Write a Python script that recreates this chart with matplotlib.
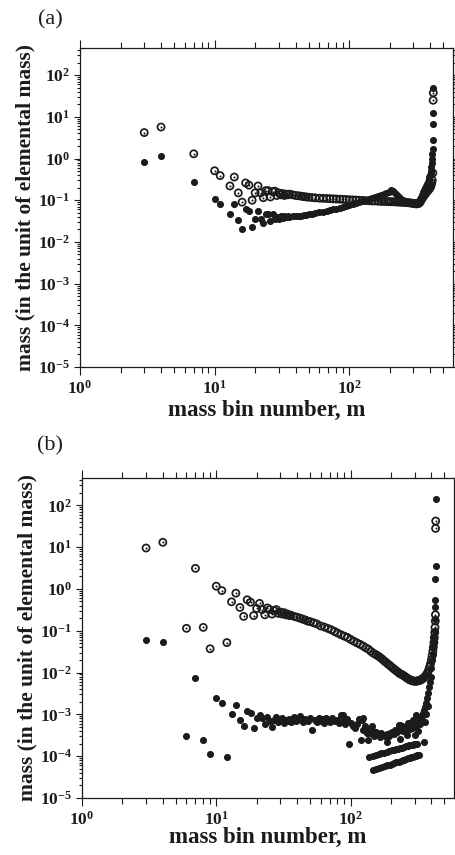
import numpy as np
import matplotlib
matplotlib.use("Agg")
import matplotlib.pyplot as plt
from matplotlib.ticker import LogLocator, FuncFormatter, NullFormatter

plt.rcParams['font.family'] = ['Liberation Serif', 'DejaVu Serif']
plt.rcParams['mathtext.fontset'] = 'custom'
plt.rcParams['mathtext.rm'] = 'Liberation Serif:bold'
plt.rcParams['mathtext.bf'] = 'Liberation Serif:bold'

# ---- panel (a) ----
a_fill_m = [3, 4, 7, 10, 11, 13, 14, 15, 16, 17, 18, 19, 20, 21, 22, 23, 24, 25, 26, 27,
            28, 29, 30, 31, 32, 33, 34, 35, 36, 38, 40, 42, 44, 46, 48, 50, 53, 56, 60, 64,
            68, 72, 76, 80, 85, 90, 95, 100, 106, 112, 118, 125, 132, 140, 148, 156, 164, 172, 180, 188,
            196, 204, 212, 220, 228, 236, 244, 252, 260, 268, 276, 284, 292, 300, 306, 312, 318, 324, 330, 336,
            342, 348, 354, 360, 366, 372, 378, 384, 390, 394, 398, 402, 405, 408, 410, 412, 414, 416, 418, 419,
            420, 421]
a_fill_v = [0.83, 1.15, 0.27, 0.107, 0.083, 0.047, 0.081, 0.033, 0.020, 0.060, 0.054, 0.023, 0.036, 0.056, 0.036, 0.029, 0.046, 0.046, 0.031, 0.046,
            0.036, 0.040, 0.036, 0.043, 0.038, 0.041, 0.039, 0.042, 0.040, 0.041, 0.042, 0.042, 0.043, 0.044, 0.045, 0.046, 0.047, 0.049, 0.051, 0.053,
            0.055, 0.058, 0.060, 0.063, 0.066, 0.069, 0.072, 0.076, 0.080, 0.085, 0.090, 0.096, 0.103, 0.108, 0.112, 0.117, 0.123, 0.130, 0.139, 0.150,
            0.162, 0.172, 0.168, 0.152, 0.135, 0.120, 0.108, 0.100, 0.095, 0.092, 0.090, 0.088, 0.086, 0.084, 0.082, 0.081, 0.082, 0.085, 0.090, 0.100,
            0.115, 0.135, 0.16, 0.18, 0.20, 0.22, 0.25, 0.28, 0.32, 0.36, 0.40, 0.45, 0.50, 0.62, 0.80, 1.0, 1.3, 1.74, 2.76, 6.9,
            12.5, 48.0]

a_open_m = [3, 4, 7, 10, 11, 13, 14, 15, 16, 17, 18, 19, 20, 21, 22, 23, 24, 25, 26, 27,
            28, 29, 30, 31, 32, 33, 34, 35, 36, 38, 40, 42, 44, 46, 48, 50, 53, 56, 60, 64,
            68, 72, 76, 80, 85, 90, 95, 100, 106, 112, 118, 125, 132, 140, 148, 156, 164, 172, 180, 188,
            196, 204, 212, 220, 228, 236, 244, 252, 260, 268, 276, 284, 292, 300, 306, 312, 318, 324, 330, 336,
            342, 348, 354, 360, 366, 372, 378, 384, 390, 394, 398, 402, 406, 410, 414, 418, 420, 421]
a_open_v = [4.2, 5.7, 1.3, 0.51, 0.39, 0.22, 0.36, 0.15, 0.090, 0.26, 0.23, 0.10, 0.15, 0.22, 0.15, 0.115, 0.17, 0.17, 0.12, 0.16,
            0.165, 0.13, 0.15, 0.135, 0.145, 0.13, 0.14, 0.135, 0.14, 0.135, 0.13, 0.128, 0.125, 0.122, 0.12, 0.118, 0.116, 0.114, 0.112, 0.111,
            0.110, 0.109, 0.108, 0.107, 0.106, 0.105, 0.104, 0.103, 0.102, 0.101, 0.100, 0.099, 0.098, 0.097, 0.096, 0.096, 0.095, 0.094, 0.094, 0.093,
            0.093, 0.092, 0.092, 0.091, 0.091, 0.090, 0.090, 0.089, 0.089, 0.088, 0.087, 0.086, 0.085, 0.084, 0.083, 0.082, 0.082, 0.083, 0.085, 0.090,
            0.10, 0.11, 0.12, 0.13, 0.14, 0.15, 0.16, 0.17, 0.18, 0.19, 0.20, 0.21, 0.23, 0.26, 0.30, 0.45, 25.0, 38.0]

# ---- panel (b) ----
b_fill_m = [3, 4, 6, 7, 8, 9, 10, 11, 12, 13, 14, 15, 16, 17, 18, 19, 20, 21, 22, 23,
            24, 25, 26, 27, 28, 29, 30, 31, 32, 33, 34, 35, 36, 37, 38, 39, 40, 42, 44, 46,
            48, 50, 52, 54, 56, 58, 60, 62, 64, 66, 68, 70, 73, 76, 79, 82, 85, 88, 91, 94,
            97, 100, 104, 108, 112, 116, 120, 124, 128, 132, 136, 140, 145, 150, 155, 160, 165, 170, 175, 180,
            186, 192, 198, 204, 210, 216, 222, 228, 234, 240, 246, 252, 258, 264, 270, 276, 282, 288, 294, 300,
            306, 312, 318, 324, 330, 336, 342, 348, 354, 360, 366, 372, 378, 384, 390, 395, 400, 405, 410, 414,
            418, 421, 423, 425, 427, 428, 429, 430, 431]
b_fill_v = [6.0e-2, 5.5e-2, 3.0e-4, 7.4e-3, 2.5e-4, 1.14e-4, 2.5e-3, 1.9e-3, 9.3e-5, 1.0e-3, 1.65e-3, 7.5e-4, 5.4e-4, 1.2e-3, 1.1e-3, 4.8e-4, 8.0e-4, 9.5e-4, 8.0e-4, 5.8e-4,
            8.8e-4, 7.0e-4, 5.0e-4, 7.5e-4, 8.8e-4, 6.5e-4, 7.2e-4, 8.0e-4, 6.2e-4, 7.5e-4, 6.8e-4, 7.8e-4, 6.5e-4, 7.3e-4, 8.5e-4, 6.8e-4, 7.5e-4, 9.0e-4, 6.6e-4, 7.8e-4,
            7.0e-4, 8.2e-4, 4.2e-4, 7.2e-4, 6.6e-4, 8.0e-4, 7.0e-4, 7.6e-4, 6.2e-4, 8.4e-4, 7.0e-4, 6.6e-4, 8.2e-4, 6.8e-4, 7.4e-4, 6.2e-4, 9.6e-4, 7.0e-4, 5.8e-4, 7.6e-4,
            2.0e-4, 6.2e-4, 5.4e-4, 4.6e-4, 5.8e-4, 7.6e-4, 2.4e-4, 4.2e-4, 5.2e-4, 3.6e-4, 4.5e-4, 3.5e-4, 4.2e-4, 3.0e-4, 3.8e-4, 3.4e-4, 2.8e-4, 3.6e-4, 3.2e-4, 3.0e-4,
            3.4e-4, 3.0e-4, 3.6e-4, 3.8e-4, 3.4e-4, 4.2e-4, 3.8e-4, 5.5e-4, 4.2e-4, 5.2e-4, 4.0e-4, 4.8e-4, 4.2e-4, 5.0e-4, 4.8e-4, 4.4e-4, 5.2e-4, 4.6e-4, 5.4e-4, 5.0e-4,
            5.6e-4, 6.0e-4, 6.5e-4, 7.0e-4, 7.5e-4, 8.0e-4, 9.0e-4, 1.05e-3, 1.25e-3, 1.5e-3, 1.9e-3, 2.5e-3, 3.3e-3, 4.5e-3, 6.0e-3, 8.0e-3, 1.3e-2, 2.0e-2, 2.8e-2, 4.0e-2,
            5.5e-2, 7.0e-2, 0.10, 0.19, 0.37, 0.54, 1.74, 3.5, 140.0]

# scattered points around the dense band of panel (b)
b_scat_m = [88, 121, 124, 136, 144, 186, 233, 235, 262, 270, 290, 300, 310, 320, 330, 340, 350, 356, 365, 375]
b_scat_v = [9.6e-4, 7.4e-4, 8.0e-4, 2.5e-4, 5.2e-4, 2.2e-4, 5.5e-4, 2.6e-4, 3.2e-4, 6.2e-4, 7.5e-4, 3.2e-4, 9.5e-4, 4.0e-4, 6.0e-4, 9.0e-4, 2.2e-4, 6.5e-4, 1.0e-3, 1.6e-3]

# two thin streaks at the bottom of panel (b)
b_streak1_m = [138, 146, 154, 162, 170, 178, 186, 194, 202, 210, 218, 226, 234, 242, 250, 258, 266, 274, 282, 290, 298, 306, 312]
b_streak1_v = [9.7e-5, 1.02e-4, 1.07e-4, 1.12e-4, 1.17e-4, 1.22e-4, 1.27e-4, 1.32e-4, 1.37e-4, 1.42e-4, 1.46e-4, 1.51e-4,
               1.56e-4, 1.61e-4, 1.66e-4, 1.71e-4, 1.75e-4, 1.80e-4, 1.85e-4, 1.89e-4, 1.93e-4, 1.97e-4, 2.0e-4]
b_streak2_m = [148, 156, 164, 172, 180, 188, 196, 204, 212, 220, 228, 236, 244, 252, 260, 268, 276, 284, 292, 300, 308, 315, 321]
b_streak2_v = [4.7e-5, 5.0e-5, 5.2e-5, 5.5e-5, 5.8e-5, 6.1e-5, 6.3e-5, 6.6e-5, 6.9e-5, 7.1e-5, 7.4e-5, 7.7e-5,
               8.0e-5, 8.3e-5, 8.5e-5, 8.8e-5, 9.1e-5, 9.4e-5, 9.7e-5, 1.0e-4, 1.03e-4, 1.05e-4, 1.07e-4]

b_open_m = [3, 4, 6, 7, 8, 9, 10, 11, 12, 13, 14, 15, 16, 17, 18, 19, 20, 21, 22, 23,
            24, 25, 26, 27, 28, 29, 30, 31, 32, 33, 34, 35, 36, 38, 40, 42, 44, 46, 48, 50,
            53, 56, 60, 64, 68, 72, 76, 80, 85, 90, 95, 100, 106, 112, 118, 124, 130, 136, 142, 148,
            154, 160, 166, 172, 178, 184, 190, 196, 202, 208, 214, 220, 226, 232, 238, 244, 250, 256, 262, 268,
            274, 280, 286, 292, 298, 304, 310, 316, 322, 328, 334, 340, 346, 352, 358, 364, 370, 376, 382, 388,
            394, 400, 405, 410, 414, 418, 421, 424, 426, 428, 429, 430, 431]
b_open_v = [9.5, 13.0, 0.114, 3.1, 0.12, 0.037, 1.16, 0.91, 0.052, 0.49, 0.79, 0.36, 0.22, 0.55, 0.48, 0.23, 0.34, 0.45, 0.32, 0.24,
            0.35, 0.32, 0.25, 0.30, 0.32, 0.26, 0.28, 0.25, 0.27, 0.24, 0.25, 0.23, 0.235, 0.22, 0.21, 0.20, 0.19, 0.18, 0.17, 0.165,
            0.155, 0.145, 0.13, 0.122, 0.113, 0.105, 0.096, 0.088, 0.080, 0.074, 0.069, 0.062, 0.056, 0.051, 0.047, 0.043, 0.039, 0.036, 0.032, 0.029,
            0.027, 0.025, 0.023, 0.021, 0.019, 0.0175, 0.016, 0.0148, 0.0136, 0.0126, 0.0117, 0.0109, 0.0102, 0.0095, 0.0091, 0.0088, 0.0083, 0.0079, 0.0075, 0.0071,
            0.0068, 0.0066, 0.0064, 0.0063, 0.0062, 0.0062, 0.0062, 0.0063, 0.0064, 0.0065, 0.0067, 0.0069, 0.0072, 0.0075, 0.0079, 0.0085, 0.0092, 0.010, 0.0115, 0.0135,
            0.016, 0.020, 0.025, 0.032, 0.040, 0.052, 0.068, 0.09, 0.12, 0.17, 0.24, 28.0, 42.0]

ink = '#1c1a1b'
SZ = 26


def tick_label(x, pos):
    e = int(round(np.log10(x)))
    return r'$\mathbf{10^{%d}}$' % e


def style_axes(ax):
    ax.set_xscale('log')
    ax.set_yscale('log')
    ax.set_xlim(1, 590)
    ax.set_ylim(1e-5, 450)
    ax.xaxis.set_major_locator(LogLocator(base=10, numticks=10))
    ax.xaxis.set_minor_locator(LogLocator(base=10, subs=np.arange(2, 10), numticks=50))
    ax.yaxis.set_major_locator(LogLocator(base=10, numticks=20))
    ax.yaxis.set_minor_locator(LogLocator(base=10, subs=np.arange(2, 10), numticks=100))
    ax.xaxis.set_major_formatter(FuncFormatter(tick_label))
    ax.yaxis.set_major_formatter(FuncFormatter(tick_label))
    ax.xaxis.set_minor_formatter(NullFormatter())
    ax.yaxis.set_minor_formatter(NullFormatter())
    ax.tick_params(which='both', direction='out', top=True, right=True, width=0.8,
                   labelsize=12.5, colors=ink)
    ax.tick_params(axis='x', which='major', length=6, pad=3)
    ax.tick_params(axis='x', which='minor', length=4.5)
    ax.tick_params(axis='y', which='major', length=4, pad=3)
    ax.tick_params(axis='y', which='minor', length=2.5)
    for s in ax.spines.values():
        s.set_linewidth(0.9)
        s.set_color(ink)
    ax.set_ylabel('mass (in the unit of elemental mass)', fontsize=15.5, fontweight='bold', color=ink)
    ax.set_xlabel('mass bin number, m', fontsize=16.5, fontweight='bold', color=ink)
    ax.yaxis.set_label_coords(-0.12, 0.5)


def draw_open(ax, m, v):
    ax.scatter(m, v, s=SZ, facecolors='none', edgecolors=ink, linewidths=1.25, zorder=3)
    ax.scatter(m, v, s=2.2, color=ink, linewidths=0, zorder=3)


def draw_fill(ax, m, v):
    ax.scatter(m, v, s=SZ, color=ink, linewidths=0, zorder=4)


fig = plt.figure(figsize=(4.55, 8.55), dpi=100)
ax1 = fig.add_axes([0.1758, 0.5708, 0.8198, 0.3731])
ax2 = fig.add_axes([0.1802, 0.0667, 0.8176, 0.3743])

draw_open(ax1, a_open_m, a_open_v)
draw_fill(ax1, a_fill_m, a_fill_v)
style_axes(ax1)
ax1.xaxis.set_label_coords(0.5, -0.105)

draw_open(ax2, b_open_m, b_open_v)
draw_fill(ax2, b_fill_m, b_fill_v)
draw_fill(ax2, b_scat_m, b_scat_v)
draw_fill(ax2, b_streak1_m, b_streak1_v)
draw_fill(ax2, b_streak2_m, b_streak2_v)
style_axes(ax2)
ax2.xaxis.set_label_coords(0.5, -0.09)

fig.text(0.11, 0.977, '(a)', fontsize=16, ha='center', va='center', color=ink)
fig.text(0.11, 0.478, '(b)', fontsize=16, ha='center', va='center', color=ink)

fig.savefig('out.png', dpi=100)
